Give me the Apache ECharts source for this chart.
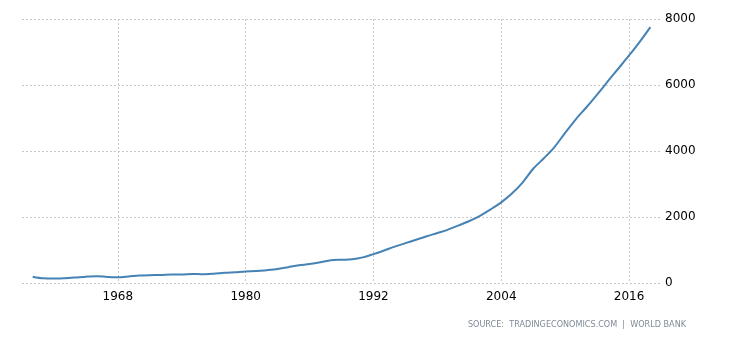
<!DOCTYPE html>
<html>
<head>
<meta charset="utf-8">
<script src="https://cdn.jsdelivr.net/npm/echarts@6/dist/echarts.min.js"></script>
<style>
  html, body { margin: 0; padding: 0; background: #fff; }
  #chart { width: 730px; height: 340px; }
</style>
</head>
<body>
<div id="chart"></div>
<script>
// Year categories (one spare year of padding at each end of the axis)
const years = [
  1959, 1960, 1961, 1962, 1963, 1964, 1965, 1966, 1967, 1968, 1969,
  1970, 1971, 1972, 1973, 1974, 1975, 1976, 1977, 1978, 1979,
  1980, 1981, 1982, 1983, 1984, 1985, 1986, 1987, 1988, 1989,
  1990, 1991, 1992, 1993, 1994, 1995, 1996, 1997, 1998, 1999,
  2000, 2001, 2002, 2003, 2004, 2005, 2006, 2007, 2008, 2009,
  2010, 2011, 2012, 2013, 2014, 2015, 2016, 2017, 2018, 2019
];

// GDP per capita, constant US$ (null where no observation)
const gdpPerCapita = [
  null, 192, 141, 133, 146, 167, 191, 206, 185, 172, 196,
  228, 238, 240, 257, 258, 275, 264, 281, 308, 327,
  348, 361, 388, 423, 480, 536, 573, 628, 689, 705,
  719, 776, 876, 986, 1101, 1207, 1312, 1418, 1514, 1619,
  1745, 1878, 2037, 2231, 2444, 2709, 3042, 3463, 3778, 4119,
  4550, 4961, 5325, 5710, 6108, 6500, 6894, 7308, 7755, null
];

// Years that carry a label and a vertical grid line
const labelledYears = [1968, 1980, 1992, 2004, 2016];
const yTicks = [0, 2000, 4000, 6000, 8000];

const showYear = (idx, val) => labelledYears.indexOf(Number(val)) !== -1;

const chart = echarts.init(document.getElementById('chart'));
chart.setOption({
  animation: false,
  backgroundColor: '#ffffff',
  textStyle: { fontFamily: 'DejaVu Sans' },
  grid: { left: 22, right: 69, top: 19, bottom: 57, containLabel: false },
  xAxis: {
    type: 'category',
    data: years.map(String),
    boundaryGap: false,
    axisLine: { show: false },
    axisTick: { show: false },
    axisLabel: {
      interval: showYear,
      color: '#000',
      fontSize: 12,
      margin: 8
    },
    splitLine: {
      show: true,
      interval: showYear,
      lineStyle: { color: '#c8c8c8', type: [2, 2], width: 1 }
    }
  },
  yAxis: {
    type: 'value',
    position: 'right',
    min: yTicks[0],
    max: yTicks[yTicks.length - 1],
    interval: 2000,
    axisLine: { show: false },
    axisTick: { show: false },
    axisLabel: {
      color: '#000',
      fontSize: 12,
      margin: 4,
      formatter: (v) => String(v)
    },
    splitLine: {
      show: true,
      lineStyle: { color: '#c8c8c8', type: [2, 2], width: 1 }
    }
  },
  series: [{
    type: 'line',
    data: gdpPerCapita,
    smooth: 0.3,
    showSymbol: false,
    connectNulls: false,
    lineStyle: { color: '#4682b4', width: 2 }
  }],
  graphic: [{
    type: 'text',
    right: 44,
    top: 320,
    style: {
      text: 'SOURCE:  TRADINGECONOMICS.COM  |  WORLD BANK',
      fill: '#7f8a96',
      font: '9px "DejaVu Sans Condensed"'
    }
  }]
});
</script>
</body>
</html>
